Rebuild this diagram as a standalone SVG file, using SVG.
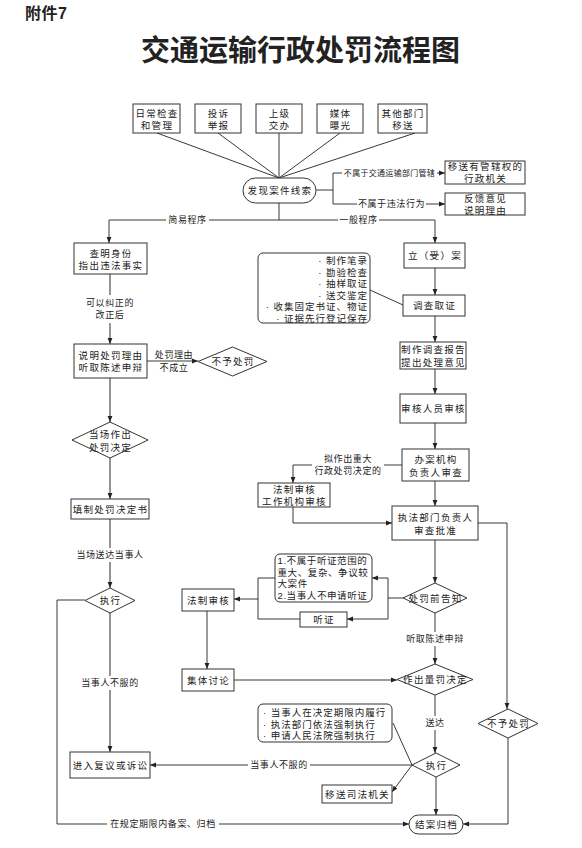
<svg xmlns="http://www.w3.org/2000/svg" width="582" height="848" viewBox="0 0 582 848">
<defs>
<marker id="a" viewBox="0 0 10 10" refX="10" refY="5" markerWidth="6" markerHeight="6" markerUnits="userSpaceOnUse" orient="auto"><path d="M0,1 L10,5 L0,9 z" fill="#222"/></marker>
<style>
.b{fill:#fff;stroke:#333;stroke-width:1}
.l{fill:none;stroke:#222;stroke-width:0.9}
.g{fill:none;stroke:#7a7a7a;stroke-width:1.6}
text{font-family:"Liberation Sans","Noto Sans CJK SC",sans-serif;fill:#222;dominant-baseline:central}
.t{font-size:9.5px;letter-spacing:1.3px;text-anchor:middle}
.s{font-size:9px;letter-spacing:0.6px;text-anchor:middle}
.xs{font-size:8px;letter-spacing:0.3px;text-anchor:middle}
.r{font-size:9.5px;letter-spacing:1px;text-anchor:end}
.lt{font-size:9.5px;letter-spacing:0.6px;text-anchor:start}
</style>
</defs>
<rect width="582" height="848" fill="#fff"/>
<text x="25" y="13" style="font-size:16px;font-weight:bold;letter-spacing:0.5px">附件7</text>
<text x="300.5" y="50.5" style="font-size:29px;font-weight:bold;text-anchor:middle">交通运输行政处罚流程图</text>

<g id="connectors">
<path class="l" d="M157,133 L279,178 M218,133 L279,178 M279,133 L279,178 M340,133 L279,178 M415,133 L279,178"/>
<path class="l" d="M316,190 H333 M333,173 V204 M333,173 H342"/>
<path class="l" d="M437,173 H445" marker-end="url(#a)"/>
<path class="l" d="M333,204 H357"/>
<path class="l" d="M426,204 H445" marker-end="url(#a)"/>
<path class="l" d="M279,203 V220 M209,220 H338"/>
<path class="l" d="M166,220 H109 V243" marker-end="url(#a)"/>
<path class="l" d="M379,220 H435 V243" marker-end="url(#a)"/>
<path class="g" d="M110,274 V295"/>
<path class="g" d="M110,323 V344" marker-end="url(#a)"/>
<path class="l" d="M147,361 H198" marker-end="url(#a)"/>
<path class="g" d="M110,378 V422" marker-end="url(#a)"/>
<path class="g" d="M110,458 V499" marker-end="url(#a)"/>
<path class="g" d="M110,519 V548"/>
<path class="g" d="M110,562 V588" marker-end="url(#a)"/>
<path class="l" d="M85,600 H57 V824 H107"/>
<path class="l" d="M219,824 H409" marker-end="url(#a)"/>
<path class="g" d="M110,613 V676"/>
<path class="g" d="M110,690 V752" marker-end="url(#a)"/>
<path class="l" d="M207,611 V669" marker-end="url(#a)"/>
<path class="l" d="M234,680 H397" marker-end="url(#a)"/>
<path class="l" d="M435,268 V295" marker-end="url(#a)"/>
<path class="l" d="M370,290 L403,305"/>
<path class="l" d="M435,316 V342" marker-end="url(#a)"/>
<path class="l" d="M435,369 V394" marker-end="url(#a)"/>
<path class="l" d="M435,423 V449" marker-end="url(#a)"/>
<path class="l" d="M402,465 H384"/>
<path class="l" d="M312,465 H293 V483" marker-end="url(#a)"/>
<path class="l" d="M435,481 V506" marker-end="url(#a)"/>
<path class="l" d="M293,507 V523 H392" marker-end="url(#a)"/>
<path class="l" d="M478,523 H507 V709" marker-end="url(#a)"/>
<path class="l" d="M435,540 V583" marker-end="url(#a)"/>
<path class="l" d="M403,598 H388 M388,578 V619"/>
<path class="l" d="M388,578 H372" marker-end="url(#a)"/>
<path class="l" d="M388,619 H347" marker-end="url(#a)"/>
<path class="l" d="M275,578 H258 V619 H300"/>
<path class="l" d="M258,599 H234" marker-end="url(#a)"/>
<path class="l" d="M435,613 V632"/>
<path class="l" d="M435,646 V664" marker-end="url(#a)"/>
<path class="l" d="M435,695 V716"/>
<path class="l" d="M435,730 V753" marker-end="url(#a)"/>
<path class="l" d="M412,765 H310"/>
<path class="l" d="M248,765 H150" marker-end="url(#a)"/>
<path class="l" d="M393,723 L412,765"/>
<path class="l" d="M412,765 L392,792" marker-end="url(#a)"/>
<path class="l" d="M436,777 V815" marker-end="url(#a)"/>
<path class="l" d="M508,738 V824 H463" marker-end="url(#a)"/>
<text class="xs" x="389.5" y="173">不属于交通运输部门管辖</text>
<text class="s" x="391.5" y="204">不属于违法行为</text>
<text class="s" x="187.5" y="220">简易程序</text>
<text class="s" x="358.5" y="220">一般程序</text>
<text class="s" x="110" y="303">可以纠正的<tspan x="110" dy="12">改正后</tspan></text>
<text class="s" x="174" y="354.5">处罚理由<tspan x="174" dy="13">不成立</tspan></text>
<text class="s" x="110" y="555">当场送达当事人</text>
<text class="s" x="110" y="683">当事人不服的</text>
<text class="s" x="163" y="824">在规定期限内备案、归档</text>
<text class="s" x="348" y="459">拟作出重大<tspan x="348" dy="12">行政处罚决定的</tspan></text>
<text class="s" x="435" y="639">听取陈述申辩</text>
<text class="s" x="435" y="723">送达</text>
<text class="s" x="279" y="765">当事人不服的</text>
</g>

<g id="src1"><rect class="b" x="133" y="104" width="47" height="29"/><text class="t" x="157" y="113">日常检查<tspan x="157" dy="12">和管理</tspan></text></g>
<g id="src2"><rect class="b" x="195" y="104" width="46" height="29"/><text class="t" x="218.5" y="113">投诉<tspan x="218.5" dy="12">举报</tspan></text></g>
<g id="src3"><rect class="b" x="256" y="104" width="46" height="29"/><text class="t" x="279.5" y="113">上级<tspan x="279.5" dy="12">交办</tspan></text></g>
<g id="src4"><rect class="b" x="317" y="104" width="46" height="29"/><text class="t" x="340.5" y="113">媒体<tspan x="340.5" dy="12">曝光</tspan></text></g>
<g id="src5"><rect class="b" x="378" y="104" width="49" height="29"/><text class="t" x="403" y="113">其他部门<tspan x="403" dy="12">移送</tspan></text></g>
<g id="discover"><rect class="b" x="243" y="178" width="73" height="25" rx="12.5"/><text class="t" x="280" y="190.5">发现案件线索</text></g>
<g id="transfer"><rect class="b" x="445" y="161" width="80" height="23"/><text class="t" x="485.5" y="166.5">移送有管辖权的<tspan x="485.5" dy="11.5">行政机关</tspan></text></g>
<g id="feedback"><rect class="b" x="445" y="193" width="80" height="22"/><text class="t" x="485.5" y="198.5">反馈意见<tspan x="485.5" dy="11.5">说明理由</tspan></text></g>
<g id="identify"><rect class="b" x="74" y="243" width="73" height="31"/><text class="t" x="111" y="253">查明身份<tspan x="111" dy="12">指出违法事实</tspan></text></g>
<g id="explain"><rect class="b" x="74" y="344" width="73" height="34"/><text class="t" x="111" y="355">说明处罚理由<tspan x="111" dy="12">听取陈述申辩</tspan></text></g>
<g id="nopenalty1"><polygon class="b" points="198,361.5 232.5,347 267,361.5 232.5,376"/><text class="t" x="233" y="361.5">不予处罚</text></g>
<g id="onsite"><polygon class="b" points="72,440 110,422 148,440 110,458"/><text class="t" x="110.5" y="434">当场作出<tspan x="110.5" dy="12.5">处罚决定</tspan></text></g>
<g id="fillform"><rect class="b" x="71" y="499" width="78" height="20"/><text class="t" x="110.5" y="509">填制处罚决定书</text></g>
<g id="exec1"><polygon class="b" points="85,600.5 110,588 135,600.5 110,613"/><text class="t" x="110.5" y="600.5">执行</text></g>
<g id="appeal"><rect class="b" x="70" y="752" width="80" height="26"/><text class="t" x="110.5" y="765">进入复议或诉讼</text></g>
<g id="filecase"><rect class="b" x="404" y="243" width="61" height="25"/><text class="t" x="435" y="255.5">立（受）案</text></g>
<g id="evidencelist"><rect class="b" x="258" y="253" width="112" height="70" rx="5"/>
<text class="r" x="368" y="260">· 制作笔录<tspan x="368" dy="11.5">· 勘验检查</tspan><tspan x="368" dy="11.5">· 抽样取证</tspan><tspan x="368" dy="11.5">· 送交鉴定</tspan><tspan x="368" dy="11.5">· 收集固定书证、物证</tspan><tspan x="368" dy="11.5">· 证据先行登记保存</tspan></text></g>
<g id="investigate"><rect class="b" x="403" y="295" width="62" height="21"/><text class="t" x="434.5" y="305.5">调查取证</text></g>
<g id="report"><rect class="b" x="400" y="342" width="66" height="27"/><text class="t" x="433.5" y="349.5">制作调查报告<tspan x="433.5" dy="12">提出处理意见</tspan></text></g>
<g id="reviewer"><rect class="b" x="400" y="394" width="66" height="29"/><text class="t" x="433.5" y="408.5">审核人员审核</text></g>
<g id="handler"><rect class="b" x="402" y="449" width="67" height="32"/><text class="t" x="436" y="459">办案机构<tspan x="436" dy="12.5">负责人审查</tspan></text></g>
<g id="legalreview1"><rect class="b" x="258" y="483" width="72" height="24"/><text class="t" x="294.5" y="489.5">法制审核<tspan x="294.5" dy="11.5">工作机构审核</tspan></text></g>
<g id="approve"><rect class="b" x="392" y="506" width="86" height="34"/><text class="t" x="435.5" y="517.5">执法部门负责人<tspan x="435.5" dy="12">审查批准</tspan></text></g>
<g id="scope"><rect class="b" x="275" y="554" width="97" height="48" rx="5"/>
<text class="lt" x="277.5" y="560">1.不属于听证范围的<tspan x="277.5" dy="11.5">重大、复杂、争议较</tspan><tspan x="277.5" dy="11.5">大案件</tspan><tspan x="277.5" dy="11.5">2.当事人不申请听证</tspan></text></g>
<g id="hearing"><rect class="b" x="300" y="612" width="47" height="15"/><text class="t" x="324" y="619.5">听证</text></g>
<g id="notify"><polygon class="b" points="403,598 435,583 467,598 435,613"/><text class="t" x="435.5" y="598">处罚前告知</text></g>
<g id="legalreview2"><rect class="b" x="182" y="589" width="52" height="22"/><text class="t" x="208.5" y="600">法制审核</text></g>
<g id="collective"><rect class="b" x="182" y="669" width="52" height="22"/><text class="t" x="208.5" y="680">集体讨论</text></g>
<g id="decide"><polygon class="b" points="397,679.5 435,664 473,679.5 435,695"/><text class="t" x="435.5" y="679.5">作出量罚决定</text></g>
<g id="execlist"><rect class="b" x="258" y="704" width="134" height="38" rx="5"/>
<text class="lt" x="263" y="712" style="letter-spacing:1px">· 当事人在决定期限内履行<tspan x="263" dy="11.5">· 执法部门依法强制执行</tspan><tspan x="263" dy="11.5">· 申请人民法院强制执行</tspan></text></g>
<g id="exec2"><polygon class="b" points="412,765 436,753 460,765 436,777"/><text class="t" x="436.5" y="765">执行</text></g>
<g id="judicial"><rect class="b" x="322" y="785" width="70" height="18"/><text class="t" x="357.5" y="794">移送司法机关</text></g>
<g id="close"><rect class="b" x="409" y="815" width="54" height="19" rx="9.5"/><text class="t" x="436.5" y="824.5">结案归档</text></g>
<g id="nopenalty2"><polygon class="b" points="478,723.5 508,709 538,723.5 508,738"/><text class="t" x="508.5" y="723.5">不予处罚</text></g>
</svg>
